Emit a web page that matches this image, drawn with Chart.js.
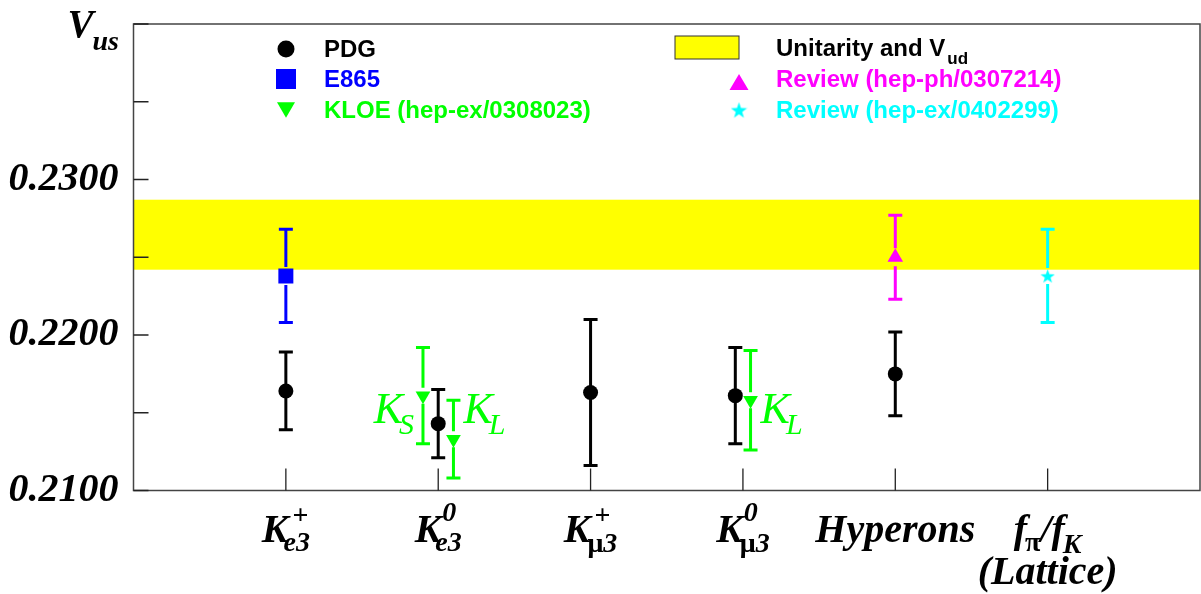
<!DOCTYPE html>
<html>
<head>
<meta charset="utf-8">
<script src="https://cdn.jsdelivr.net/npm/chart.js@4.4.1/dist/chart.umd.min.js"></script>
<style>
  html, body { margin: 0; padding: 0; background: #fff; }
  #wrap { width: 1201px; height: 594px; position: relative; }
</style>
</head>
<body>
<div id="wrap"><canvas id="vusChart"></canvas></div>
<script>
// ---------- DATA ----------
const categories = ['Ke3+', 'Ke3^0', 'Kmu3+', 'Kmu3^0', 'Hyperons', 'fpi/fK'];

const pdgPos = [1, 2, 3, 3.95, 5];
const pdgVus = [0.2164, 0.2143, 0.2163, 0.2161, 0.2175];
const pdgErr = [0.0025, 0.0022, 0.0047, 0.0031, 0.0027];

const e865Pos = [1];
const e865Vus = [0.2238];
const e865Err = [0.0030];

const kloePos = [1.9, 2.1, 4.05];
const kloeVus = [0.2161, 0.2133, 0.2158];
const kloeErr = [0.0031, 0.0025, 0.0032];
const kloeTags = ['S', 'L', 'L'];
const kloeTagY = 0.21436;

const hepphPos = [5];
const hepphVus = [0.2250];
const hepphErr = [0.0027];

const hepexPos = [6];
const hepexVus = [0.2238];
const hepexErr = [0.0030];

const unitarityBand = [0.2242, 0.2287];
const yLabelled = [0.21, 0.22, 0.23];

// ---------- HELPERS ----------
const BI = s => `italic bold ${s}px "Liberation Serif"`;
const B = s => `bold ${s}px "Liberation Serif"`;
const I = s => `italic ${s}px "Liberation Serif"`;
const SANS = s => `bold ${s}px "Liberation Sans"`;

function toPoints(pos, vals, errs) {
    return pos.map((x, i) => ({ x: x, y: vals[i], err: errs[i] }));
}

function starImage(size, color) {
    const c = document.createElement('canvas');
    c.width = c.height = size;
    const g = c.getContext('2d');
    g.fillStyle = color;
    g.beginPath();
    for (let i = 0; i < 10; i++) {
        const r = i % 2 ? size * 0.2 : size * 0.5;
        const a = -Math.PI / 2 + i * Math.PI / 5;
        g.lineTo(size / 2 + r * Math.cos(a), size / 2 + r * Math.sin(a) + size * 0.05);
    }
    g.closePath();
    g.fill();
    return c;
}

// segments: {t, f, dx, dy, adv}
function drawRich(ctx, segs, cx, baseline) {
    let cur = 0;
    segs.forEach(s => {
        ctx.font = s.f;
        s.w = ctx.measureText(s.t).width;
        s.x0 = cur + (s.dx || 0);
        if (s.adv !== false) cur = s.x0 + s.w;
    });
    const left = cx - cur / 2;
    ctx.textAlign = 'left';
    ctx.textBaseline = 'alphabetic';
    segs.forEach(s => {
        ctx.font = s.f;
        ctx.fillText(s.t, left + s.x0, baseline + (s.dy || 0));
    });
}

function drawMarker(ctx, kind, x, y, r, color) {
    ctx.fillStyle = color;
    ctx.beginPath();
    if (kind === 'circle') {
        ctx.arc(x, y, r, 0, Math.PI * 2);
    } else if (kind === 'rect') {
        ctx.rect(x - r, y - r, 2 * r, 2 * r);
    } else if (kind === 'down') {
        ctx.moveTo(x - r, y - r * 0.85);
        ctx.lineTo(x + r, y - r * 0.85);
        ctx.lineTo(x, y + r * 0.85);
    } else if (kind === 'up') {
        ctx.moveTo(x - r, y + r * 0.85);
        ctx.lineTo(x + r, y + r * 0.85);
        ctx.lineTo(x, y - r * 0.85);
    }
    ctx.closePath();
    ctx.fill();
}

const cyanStar = starImage(15, '#00ffff');
const cyanStarBig = starImage(17, '#00ffff');

const xLabels = [
    [{ t: 'K', f: BI(40) }, { t: '+', f: B(28), dx: 4, dy: -18, adv: false }, { t: 'e3', f: BI(28), dx: -5, dy: 9 }],
    [{ t: 'K', f: BI(40) }, { t: '0', f: BI(28), dx: 1, dy: -21, adv: false }, { t: 'e3', f: BI(28), dx: -6, dy: 9 }],
    [{ t: 'K', f: BI(40) }, { t: '+', f: B(28), dx: 4, dy: -18, adv: false }, { t: 'μ', f: B(28), dx: -3, dy: 10 }, { t: '3', f: BI(28), dy: 10 }],
    [{ t: 'K', f: BI(40) }, { t: '0', f: BI(28), dx: 1, dy: -21, adv: false }, { t: 'μ', f: B(28), dx: -3, dy: 10 }, { t: '3', f: BI(28), dy: 10 }],
    [{ t: 'Hyperons', f: BI(40) }],
    [{ t: 'f', f: BI(40) }, { t: 'π', f: B(28), dx: -2, dy: 9 }, { t: '/', f: BI(40) }, { t: 'f', f: BI(40) }, { t: 'K', f: BI(28), dx: -2, dy: 11 }]
];

function noPad(s) {
    s.paddingTop = 0; s.paddingBottom = 0; s.paddingLeft = 0; s.paddingRight = 0;
}

// ---------- PLUGINS ----------
const bandAndErrors = {
    id: 'bandAndErrors',
    beforeDatasetsDraw(chart) {
        const { ctx, chartArea: a, scales: { y } } = chart;
        ctx.save();
        const top = y.getPixelForValue(unitarityBand[1]);
        const bot = y.getPixelForValue(unitarityBand[0]);
        ctx.fillStyle = '#ffff00';
        ctx.fillRect(a.left, top, a.right - a.left, bot - top);

        chart.data.datasets.forEach((ds, di) => {
            const meta = chart.getDatasetMeta(di);
            ctx.strokeStyle = ds.borderColor;
            ctx.lineWidth = 3;
            meta.data.forEach((pt, i) => {
                const d = ds.data[i];
                const yt = y.getPixelForValue(d.y + d.err);
                const yb = y.getPixelForValue(d.y - d.err);
                const gap = ds.errGap || 0;
                ctx.beginPath();
                ctx.moveTo(pt.x, yt); ctx.lineTo(pt.x, pt.y - gap);
                ctx.moveTo(pt.x, pt.y + gap); ctx.lineTo(pt.x, yb);
                ctx.moveTo(pt.x - 7, yt); ctx.lineTo(pt.x + 7, yt);
                ctx.moveTo(pt.x - 7, yb); ctx.lineTo(pt.x + 7, yb);
                ctx.stroke();
            });
        });
        ctx.restore();
    }
};

const frameAndText = {
    id: 'frameAndText',
    afterDraw(chart) {
        const { ctx, chartArea: a, scales: { x, y } } = chart;
        ctx.save();

        // frame
        ctx.strokeStyle = '#444';
        ctx.lineWidth = 1.5;
        ctx.strokeRect(a.left, a.top, a.right - a.left, a.bottom - a.top);

        // inner ticks
        ctx.strokeStyle = '#222';
        ctx.lineWidth = 1.3;
        ctx.beginPath();
        y.ticks.forEach(t => {
            const py = y.getPixelForValue(t.value);
            ctx.moveTo(a.left, py); ctx.lineTo(a.left + 15, py);
        });
        categories.forEach((c, i) => {
            const px = x.getPixelForValue(i + 1);
            ctx.moveTo(px, a.bottom); ctx.lineTo(px, a.bottom - 22);
        });
        ctx.stroke();

        // category labels
        ctx.fillStyle = '#000';
        xLabels.forEach((segs, i) => {
            drawRich(ctx, segs, x.getPixelForValue(i + 1), a.bottom + 51);
        });
        drawRich(ctx, [{ t: '(Lattice)', f: BI(40) }], x.getPixelForValue(6), a.bottom + 93);

        // axis title
        ctx.textAlign = 'left';
        ctx.font = BI(39);
        ctx.fillText('V', a.left - 66, a.top + 13);
        ctx.font = BI(28);
        ctx.fillText('us', a.left - 41, a.top + 26);

        // KLOE K_S / K_L tags
        const kloeMeta = chart.getDatasetMeta(2);
        ctx.fillStyle = '#00ff00';
        kloeTags.forEach((tag, i) => {
            const pt = kloeMeta.data[i];
            const by = y.getPixelForValue(kloeTagY);
            ctx.font = I(44);
            const kw = ctx.measureText('K').width;
            ctx.font = I(30);
            const sw = ctx.measureText(tag).width;
            const x0 = tag === 'S' ? pt.x - 9 - (kw - 4 + sw) : pt.x + 10;
            ctx.font = I(44);
            ctx.fillText('K', x0, by);
            ctx.font = I(30);
            ctx.fillText(tag, x0 + kw - 4, by + 11);
        });

        // legend
        ctx.textAlign = 'left';
        drawMarker(ctx, 'circle', 286, 49, 8.5, '#000');
        drawMarker(ctx, 'rect', 286, 79, 10, '#0000ff');
        drawMarker(ctx, 'down', 286, 110, 9, '#00ff00');
        ctx.font = SANS(24);
        ctx.fillStyle = '#000'; ctx.fillText('PDG', 324, 57);
        ctx.fillStyle = '#0000ff'; ctx.fillText('E865', 324, 87);
        ctx.fillStyle = '#00ff00'; ctx.fillText('KLOE (hep-ex/0308023)', 324, 118);

        ctx.fillStyle = '#ffff00';
        ctx.fillRect(675, 36, 64, 23);
        ctx.strokeStyle = '#333';
        ctx.lineWidth = 1;
        ctx.strokeRect(675, 36, 64, 23);
        drawMarker(ctx, 'up', 739, 82, 9.5, '#ff00ff');
        ctx.drawImage(cyanStarBig, 739 - 8.5, 110 - 8.5);
        ctx.font = SANS(24);
        ctx.fillStyle = '#000'; ctx.fillText('Unitarity and V', 776, 56);
        const uw = ctx.measureText('Unitarity and V').width;
        ctx.font = SANS(17);
        ctx.fillText('ud', 776 + uw + 2, 64);
        ctx.font = SANS(24);
        ctx.fillStyle = '#ff00ff'; ctx.fillText('Review (hep-ph/0307214)', 776, 87);
        ctx.fillStyle = '#00ffff'; ctx.fillText('Review (hep-ex/0402299)', 776, 118);

        ctx.restore();
    }
};

// ---------- CHART ----------
new Chart(document.getElementById('vusChart'), {
    type: 'scatter',
    data: {
        datasets: [
            { label: 'PDG', data: toPoints(pdgPos, pdgVus, pdgErr), pointStyle: 'circle', radius: 7.5,
              backgroundColor: '#000', borderColor: '#000', borderWidth: 0, errGap: 0 },
            { label: 'E865', data: toPoints(e865Pos, e865Vus, e865Err), pointStyle: 'rect', radius: 10.6,
              backgroundColor: '#0000ff', borderColor: '#0000ff', borderWidth: 0, errGap: 9 },
            { label: 'KLOE (hep-ex/0308023)', data: toPoints(kloePos, kloeVus, kloeErr), pointStyle: 'triangle',
              rotation: 180, radius: 8.5, backgroundColor: '#00ff00', borderColor: '#00ff00', borderWidth: 0, errGap: 8 },
            { label: 'Review (hep-ph/0307214)', data: toPoints(hepphPos, hepphVus, hepphErr), pointStyle: 'triangle',
              radius: 9, backgroundColor: '#ff00ff', borderColor: '#ff00ff', borderWidth: 0, errGap: 9 },
            { label: 'Review (hep-ex/0402299)', data: toPoints(hepexPos, hepexVus, hepexErr), pointStyle: cyanStar,
              radius: 7, backgroundColor: '#00ffff', borderColor: '#00ffff', borderWidth: 0, errGap: 8 }
        ]
    },
    options: {
        responsive: true,
        maintainAspectRatio: false,
        animation: false,
        events: [],
        layout: { autoPadding: false, padding: { top: 24, right: 1, bottom: 103.5, left: 0 } },
        plugins: { legend: { display: false }, tooltip: { enabled: false } },
        scales: {
            x: { type: 'linear', min: 0, max: 7, display: false, afterFit: noPad },
            y: {
                min: 0.21, max: 0.24,
                afterFit: s => { s.width = 133.5; noPad(s); },
                border: { display: false },
                grid: { display: false, drawTicks: false },
                ticks: {
                    stepSize: 0.005, padding: 15, autoSkip: false, color: '#000',
                    font: { family: 'Liberation Serif', size: 40, weight: 'bold', style: 'italic' },
                    callback: v => yLabelled.some(t => Math.abs(t - v) < 1e-6) ? v.toFixed(4) : ''
                }
            }
        }
    },
    plugins: [bandAndErrors, frameAndText]
});
</script>
</body>
</html>
